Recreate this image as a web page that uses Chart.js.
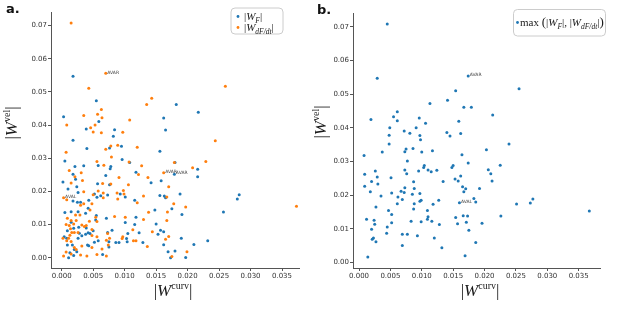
<!DOCTYPE html>
<html>
<head>
<meta charset="utf-8">
<script src="https://cdn.jsdelivr.net/npm/chart.js@4"></script>
<style>
  body { margin: 0; background: #fff; width: 617px; height: 310px; overflow: hidden; position: relative; }
  canvas { position: absolute; top: 0; }
  #chartA { left: 0; }
  #chartB { left: 308px; }
</style>
</head>
<body>
<canvas id="chartA" width="308" height="310"></canvas>
<canvas id="chartB" width="309" height="310"></canvas>
<script>
// tick labels
var xTicks = [0, 0.005, 0.01, 0.015, 0.02, 0.025, 0.03, 0.035];
var yTicks = [0, 0.01, 0.02, 0.03, 0.04, 0.05, 0.06, 0.07];

// panel a: |W_F| (blue)
var wF = [[0.0018,0.0547],[0.0055,0.0473],[0.0182,0.0462],[0.0003,0.0425],[0.0162,0.0421],[0.0217,0.0439],[0.0059,0.0411],[0.0039,0.0388],[0.0084,0.0386],[0.0165,0.0385],[0.0018,0.0354],[0.0082,0.0366],[0.0040,0.0329],[0.0076,0.0331],[0.0095,0.0336],[0.0156,0.0321],[0.0096,0.0296],
  [0.0005,0.0292],[0.0058,0.0278],[0.0078,0.0275],[0.0077,0.0268],[0.0108,0.0287],[0.0118,0.0258],[0.0021,0.0275],[0.0035,0.0277],[0.0018,0.0252],[0.0022,0.0237],[0.0070,0.0248],[0.0142,0.0226],[0.0076,0.0220],[0.0057,0.0223],[0.0002,0.0228],[0.0024,0.0214],[0.0026,0.0197],[0.0010,0.0207],[0.0018,0.0171],[0.0025,0.0167],[0.0030,0.0167],[0.0043,0.0173],[0.0052,0.0192],[0.0056,0.0182],[0.0062,0.0187],[0.0073,0.0189],[0.0093,0.0192],[0.0101,0.0183],[0.0116,0.0173],[0.0156,0.0188],[0.0163,0.0186],[0.0165,0.0181],[0.0188,0.0192],[0.0158,0.0232],[0.0180,0.0287],[0.0216,0.0267],[0.0216,0.0244],[0.0179,0.0252],[0.0279,0.0177],[0.0282,0.0190],[0.0257,0.0138],[0.0191,0.0130],[0.0175,0.0148],[0.0148,0.0144],[0.0150,0.0102],[0.0157,0.0083],[0.0162,0.0078],[0.0153,0.0071],[0.0190,0.0059],[0.0162,0.0039],[0.0169,0.0018],[0.0180,0.0020],[0.0173,0.0000],[0.0197,0.0001],[0.0210,0.0040],[0.0232,0.0051],[0.0129,0.0046],[0.0123,0.0075],[0.0118,0.0122],[0.0116,0.0100],[0.0101,0.0106],[0.0105,0.0073],[0.0103,0.0058],[0.0104,0.0048],[0.0071,0.0119],[0.0080,0.0083],[0.0073,0.0076],[0.0075,0.0048],[0.0086,0.0046],[0.0091,0.0046],[0.0075,0.0032],[0.0065,0.0010],[0.0052,0.0047],[0.0058,0.0051],[0.0050,0.0081],[0.0042,0.0075],[0.0039,0.0090],[0.0038,0.0071],[0.0045,0.0073],[0.0054,0.0114],[0.0055,0.0127],[0.0038,0.0134],[0.0026,0.0139],[0.0015,0.0139],[0.0005,0.0136],[0.0015,0.0107],[0.0019,0.0089],[0.0009,0.0081],[0.0028,0.0074],[0.0032,0.0066],[0.0026,0.0059],[0.0004,0.0063],[0.0008,0.0059],[0.0009,0.0038],[0.0017,0.0038],[0.0020,0.0025],[0.0024,0.0018],[0.0013,0.0015],[0.0019,0.0007],[0.0011,0.0000],[0.0041,0.0038],[0.0043,0.0036],[0.0027,0.0092],[0.0042,0.0149]];

// panel a: |W_dF/dt| (orange)
var wdF = [[0.0015,0.0708],[0.0070,0.0556],[0.0043,0.0511],[0.0143,0.0481],[0.0135,0.0462],[0.0260,0.0517],[0.0035,0.0429],[0.0057,0.0433],[0.0063,0.0447],[0.0064,0.0422],[0.0008,0.0400],[0.0108,0.0415],[0.0053,0.0400],[0.0046,0.0392],[0.0050,0.0379],[0.0063,0.0377],[0.0097,0.0378],[0.0070,0.0327],[0.0078,0.0337],[0.0089,0.0339],[0.0120,0.0333],[0.0244,0.0353],[0.0007,0.0318],[0.0079,0.0304],
  [0.0056,0.0290],[0.0067,0.0279],[0.0107,0.0289],[0.0127,0.0277],[0.0012,0.0263],[0.0031,0.0256],[0.0021,0.0244],[0.0033,0.0233],[0.0122,0.0251],[0.0137,0.0242],[0.0091,0.0242],[0.0065,0.0224],[0.0078,0.0222],[0.0106,0.0220],[0.0015,0.0225],[0.0035,0.0199],[0.0003,0.0181],[0.0008,0.0175],[0.0048,0.0163],[0.0050,0.0190],[0.0066,0.0195],[0.0058,0.0201],[0.0066,0.0181],[0.0088,0.0195],[0.0098,0.0203],[0.0099,0.0192],[0.0089,0.0177],[0.0120,0.0166],[0.0130,0.0186],[0.0167,0.0183],[0.0170,0.0214],[0.0179,0.0287],[0.0208,0.0271],[0.0229,0.0290],[0.0162,0.0256],[0.0373,0.0155],[0.0178,0.0163],[0.0197,0.0153],[0.0168,0.0138],[0.0138,0.0137],[0.0167,0.0112],[0.0144,0.0078],[0.0170,0.0064],[0.0165,0.0056],[0.0175,0.0004],[0.0199,0.0018],[0.0136,0.0034],[0.0118,0.0051],[0.0130,0.0115],[0.0113,0.0084],[0.0101,0.0122],[0.0097,0.0063],[0.0096,0.0058],[0.0114,0.0051],[0.0084,0.0124],[0.0073,0.0073],[0.0076,0.0059],[0.0071,0.0053],[0.0074,0.0038],[0.0064,0.0026],[0.0056,0.0010],[0.0071,0.0005],[0.0040,0.0005],[0.0056,0.0063],[0.0048,0.0085],[0.0044,0.0110],[0.0039,0.0097],[0.0036,0.0094],[0.0048,0.0067],[0.0054,0.0122],[0.0056,0.0109],[0.0029,0.0129],[0.0022,0.0129],[0.0009,0.0119],[0.0015,0.0112],[0.0019,0.0102],[0.0023,0.0112],[0.0007,0.0100],[0.0012,0.0097],[0.0014,0.0087],[0.0016,0.0076],[0.0020,0.0076],[0.0026,0.0076],[0.0032,0.0099],[0.0013,0.0068],[0.0011,0.0059],[0.0002,0.0059],[0.0008,0.0051],[0.0015,0.0049],[0.0020,0.0031],[0.0023,0.0025],[0.0007,0.0017],[0.0015,0.0011],[0.0003,0.0005],[0.0030,0.0008],[0.0032,0.0035],[0.0048,0.0031],[0.0030,0.0158],[0.0035,0.0163],[0.0045,0.0144]];

// panel b: max(|W_F|, |W_dF/dt|)
var wMax = [[0.0045,0.0708],[0.0029,0.0547],[0.0174,0.0554],[0.0255,0.0516],[0.0154,0.0510],[0.0141,0.0482],[0.0167,0.0461],[0.0179,0.0461],[0.0113,0.0472],[0.0061,0.0448],[0.0055,0.0433],[0.0019,0.0425],[0.0061,0.0421],[0.0096,0.0429],[0.0106,0.0414],[0.0159,0.0420],[0.0213,0.0438],[0.0049,0.0400],[0.0091,0.0400],[0.0072,0.0391],[0.0081,0.0384],[0.0048,0.0378],[0.0097,0.0377],[0.0140,0.0386],[0.0145,0.0376],[0.0162,0.0383],[0.0098,0.0365],[0.0048,0.0352],[0.0239,0.0352],[0.0075,0.0337],[0.0086,0.0339],[0.0073,0.0329],[0.0037,0.0328],[0.0100,0.0328],[0.0117,0.0332],[0.0203,0.0335],[0.0164,0.0320],[0.0008,0.0318],
  [0.0077,0.0302],[0.0174,0.0296],[0.0148,0.0282],[0.0150,0.0288],[0.0104,0.0288],[0.0103,0.0282],[0.0110,0.0275],[0.0115,0.0270],[0.0124,0.0274],[0.0095,0.0272],[0.0073,0.0275],[0.0076,0.0264],[0.0026,0.0272],[0.0009,0.0262],[0.0029,0.0254],[0.0206,0.0276],[0.0225,0.0289],[0.0210,0.0264],[0.0212,0.0242],[0.0162,0.0257],[0.0153,0.0248],[0.0158,0.0242],[0.0051,0.0252],[0.0020,0.0241],[0.0030,0.0233],[0.0009,0.0227],[0.0087,0.0240],[0.0134,0.0241],[0.0165,0.0225],[0.0170,0.0219],[0.0192,0.0220],[0.0167,0.0210],[0.0018,0.0210],[0.0052,0.0207],[0.0073,0.0222],[0.0067,0.0212],[0.0072,0.0208],[0.0088,0.0220],[0.0097,0.0205],[0.0099,0.0185],[0.0085,0.0203],[0.0035,0.0198],[0.0062,0.0195],[0.0069,0.0187],[0.0097,0.0182],[0.0088,0.0175],[0.0061,0.0175],[0.0118,0.0173],[0.0127,0.0185],[0.0183,0.0190],[0.0186,0.0180],[0.0160,0.0178],[0.0087,0.0159],[0.0109,0.0155],[0.0047,0.0155],[0.0027,0.0165],[0.0052,0.0143],[0.0110,0.0136],[0.0109,0.0129],[0.0154,0.0134],[0.0166,0.0139],[0.0173,0.0138],[0.0226,0.0138],[0.0251,0.0174],[0.0273,0.0177],[0.0277,0.0189],[0.0367,0.0153],[0.0012,0.0129],[0.0024,0.0126],[0.0052,0.0118],[0.0083,0.0123],[0.0099,0.0121],[0.0116,0.0123],[0.0128,0.0113],[0.0157,0.0115],[0.0171,0.0120],[0.0196,0.0117],[0.0025,0.0114],[0.0045,0.0106],[0.0020,0.0099],[0.0175,0.0096],[0.0044,0.0087],[0.0069,0.0084],[0.0077,0.0084],[0.0093,0.0080],[0.0120,0.0073],[0.0023,0.0073],[0.0021,0.0069],[0.0027,0.0062],[0.0186,0.0060],[0.0069,0.0051],[0.0132,0.0044],[0.0014,0.0017],[0.0169,0.0020]];

// point annotations
var notesA = [[0.0070,0.0556,'AVAR'],[0.0003,0.0181,'AVAL'],[0.0162,0.0256,'AVAR'],[0.0179,0.0252,'AVAR']];
var notesB = [[0.0174,0.0554,'AVAR'],[0.0160,0.0178,'AVAL']];

var BLUE = '#1f77b4', ORANGE = '#ff7f0e';
var SERIF = '"Liberation Serif", "DejaVu Serif", serif';

function rm(t, s, dy) { return { t: t, f: s + 'px ' + SERIF, dy: dy || 0 }; }
function it(t, s, dy) { return { t: t, f: 'italic ' + s + 'px ' + SERIF, dy: dy || 0 }; }

function drawMath(ctx, parts, x, y, align, rotate) {
  ctx.save();
  ctx.translate(x, y);
  if (rotate) ctx.rotate(-Math.PI / 2);
  var total = 0;
  parts.forEach(function (p) { ctx.font = p.f; p.w = ctx.measureText(p.t).width; total += p.w; });
  var cx = align === 'center' ? -total / 2 : 0;
  ctx.textBaseline = 'alphabetic';
  ctx.textAlign = 'left';
  ctx.fillStyle = '#1a1a1a';
  parts.forEach(function (p) { ctx.font = p.f; ctx.fillText(p.t, cx, p.dy); cx += p.w; });
  ctx.restore();
}

function roundBox(ctx, x, y, w, h, r) {
  ctx.beginPath();
  ctx.moveTo(x + r, y);
  ctx.arcTo(x + w, y, x + w, y + h, r);
  ctx.arcTo(x + w, y + h, x, y + h, r);
  ctx.arcTo(x, y + h, x, y, r);
  ctx.arcTo(x, y, x + w, y, r);
  ctx.closePath();
}

var panelPlugin = {
  id: 'panel',
  afterDraw: function (chart, args, o) {
    var ctx = chart.ctx, xs = chart.scales.x, ys = chart.scales.y;
    ctx.save();
    // annotations
    ctx.font = '4.5px "DejaVu Sans"';
    ctx.fillStyle = '#444';
    ctx.textBaseline = 'middle';
    o.notes.forEach(function (n) {
      ctx.fillText(n[2], xs.getPixelForValue(n[0]) + 1.5, ys.getPixelForValue(n[1]) - 1);
    });
    // panel letter
    ctx.font = 'bold 13px "DejaVu Sans"';
    ctx.fillStyle = '#111';
    ctx.textBaseline = 'alphabetic';
    ctx.fillText(o.letter, o.letterX, o.letterY);
    // legend box
    var L = o.legend;
    roundBox(ctx, L.x, L.y, L.w, L.h, 4);
    ctx.fillStyle = 'rgba(255,255,255,0.8)';
    ctx.fill();
    ctx.strokeStyle = '#cccccc';
    ctx.lineWidth = 1;
    ctx.stroke();
    L.rows.forEach(function (r) {
      ctx.beginPath();
      ctx.arc(L.mx, r.y - 3.5, 1.4, 0, Math.PI * 2);
      ctx.fillStyle = r.color;
      ctx.fill();
      drawMath(ctx, r.parts, L.tx, r.y, 'left', false);
    });
    ctx.restore();
    // axis titles
    drawMath(ctx, [rm('|', 17), it('W', 17), rm('curv', 10, -7), rm('|', 17)], o.xTitle[0], o.xTitle[1], 'center', false);
    drawMath(ctx, [rm('|', 17), it('W', 17), rm('vel', 10, -7), rm('|', 17)], o.yTitle[0], o.yTitle[1], 'center', true);
  }
};

function makeChart(id, datasets, o) {
  return new Chart(document.getElementById(id), {
    type: 'scatter',
    data: { datasets: datasets },
    options: {
      responsive: false,
      animation: false,
      devicePixelRatio: 1,
      layout: { padding: o.padding },
      plugins: { legend: { display: false }, tooltip: { enabled: false }, panel: o },
      scales: {
        x: {
          type: 'linear', min: o.xMin, max: o.xMax,
          afterBuildTicks: function (s) { s.ticks = xTicks.map(function (v) { return { value: v }; }); },
          afterFit: function (s) { s.height = 42; },
          grid: { drawOnChartArea: false, drawTicks: true, tickLength: 3, tickColor: '#555' },
          border: { display: true, color: '#555', width: 1 },
          ticks: { font: { family: 'DejaVu Sans', size: 7 }, color: '#333', padding: 1, maxRotation: 0, autoSkip: false,
                   callback: function (v) { return Number(v).toFixed(3); } }
        },
        y: {
          type: 'linear', min: o.yMin, max: o.yMax,
          afterBuildTicks: function (s) { s.ticks = yTicks.map(function (v) { return { value: v }; }); },
          afterFit: function (s) { s.width = o.yWidth; },
          grid: { drawOnChartArea: false, drawTicks: true, tickLength: 3, tickColor: '#555' },
          border: { display: true, color: '#555', width: 1 },
          ticks: { font: { family: 'DejaVu Sans', size: 7 }, color: '#333', padding: 1, autoSkip: false,
                   callback: function (v) { return Number(v).toFixed(2); } }
        }
      }
    },
    plugins: [panelPlugin]
  });
}

function pts(arr) { return arr.map(function (p) { return { x: p[0], y: p[1] }; }); }
function ds(arr, color, order) {
  return { data: pts(arr), backgroundColor: color, pointRadius: 1.5, pointBorderWidth: 0, pointHoverRadius: 1.5, order: order };
}

makeChart('chartA', [ds(wF, BLUE, 1), ds(wdF, ORANGE, 0)], {
  padding: { left: 0, right: 9, top: 12, bottom: 0 },
  yWidth: 51,
  xMin: -0.0017, xMax: 0.0377, yMin: -0.0031, yMax: 0.0741,
  notes: notesA,
  letter: 'a.', letterX: 6, letterY: 12.5,
  xTitle: [173, 296], yTitle: [17, 123],
  legend: {
    x: 231, y: 8, w: 52, h: 26, mx: 238, tx: 244,
    rows: [
      { y: 20, color: BLUE, parts: [rm('|', 11), it('W', 11), it('F', 7.5, 2.5), rm('|', 11)] },
      { y: 31, color: ORANGE, parts: [rm('|', 11), it('W', 11), it('dF/dt', 7.5, 2.5), rm('|', 11)] }
    ]
  }
});

makeChart('chartB', [ds(wMax, BLUE, 0)], {
  padding: { left: 0, right: 17, top: 13, bottom: 0 },
  yWidth: 45,
  xMin: -0.00096, xMax: 0.0384, yMin: -0.0016, yMax: 0.0741,
  notes: notesB,
  letter: 'b.', letterX: 9, letterY: 14,
  xTitle: [172, 296], yTitle: [18, 122],
  legend: {
    x: 205.5, y: 9.5, w: 92, h: 26.5, mx: 209.5, tx: 212,
    rows: [
      { y: 26, color: BLUE, parts: [rm('max ', 11), rm('(', 13), rm('|', 11), it('W', 11), it('F', 7.5, 2.5), rm('|', 11), rm(', ', 11),
                                    rm('|', 11), it('W', 11), it('dF/dt', 7.5, 2.5), rm('|', 11), rm(')', 13)] }
    ]
  }
});
</script>
</body>
</html>
